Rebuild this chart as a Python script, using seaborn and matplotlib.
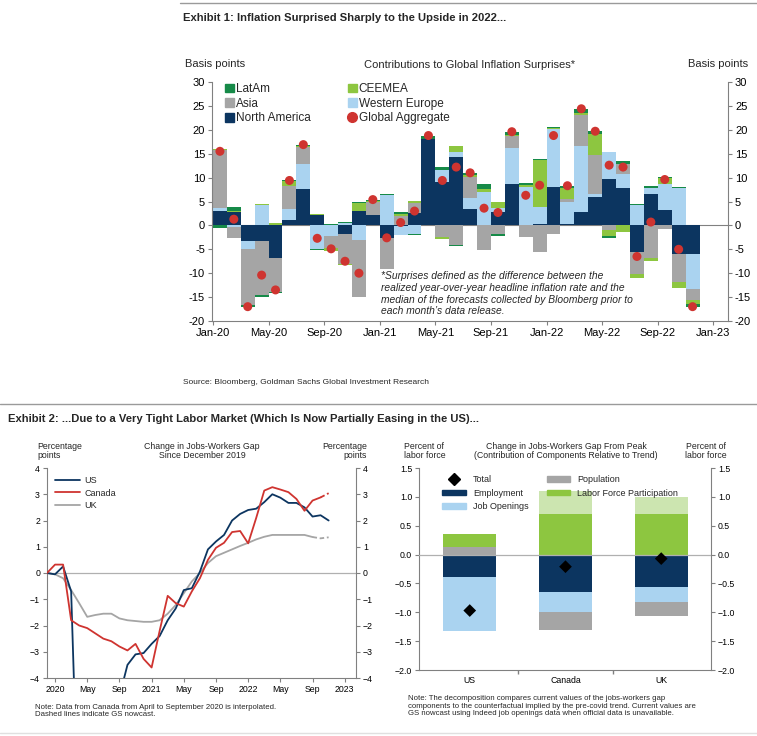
import numpy as np
import pandas as pd
import seaborn as sns
import matplotlib.pyplot as plt
from matplotlib.patches import Patch
from matplotlib.lines import Line2D

# Exhibit 1 data: contributions to inflation surprises (bp), Jan-20 .. Nov-22
months = pd.date_range("2020-01-01", "2022-11-01", freq="MS")
north_america = [3.0, 2.9, -3.3, -3.3, -6.8, 1.1, 7.7, 2.1, 0.0, -1.9, 3.1, 2.1,
                 -2.7, -0.2, 2.6, 18.1, 9.1, 14.3, 3.5, 0.0, 2.9, 8.7, 0.0, 0.2,
                 8.0, 0.2, 2.8, 5.9, 9.8, 7.9, -5.6, 6.5, 3.3, -5.9, -5.9]
western_europe = [0.7, -0.4, -1.6, 4.2, 0.0, 2.4, 5.1, -4.9, -2.2, 0.5, -3.1, 0.0,
                  6.4, -1.9, -1.9, 0.0, 2.4, 1.0, 2.3, 7.0, 0.8, 7.5, 8.1, 3.6,
                  12.2, 4.8, 13.9, 0.7, 5.5, 2.8, 4.3, 1.3, 5.4, 7.8, -7.4]
asia = [12.0, -2.2, -11.7, -11.2, -7.2, 4.7, 3.6, 0.0, -2.6, -6.1, -11.9, 2.7,
        -6.5, 2.0, 2.1, 0.0, -2.4, -4.1, 4.4, -5.2, -1.9, 2.6, -2.5, -5.5,
        -1.7, 0.6, 6.5, 8.1, -1.0, 2.1, -4.5, -6.8, -0.7, -6.0, -2.4]
ceemea = [0.3, 0.2, 0.0, 0.3, 0.5, 1.1, 0.2, 0.3, -0.5, -0.2, 1.6, 0.3,
          0.0, 0.4, 0.4, 0.0, -0.4, 1.3, 0.4, 0.7, 1.2, 0.1, 0.4, 9.8,
          0.1, 2.2, 0.3, 4.5, -1.2, -1.3, -0.9, -0.7, 1.2, -1.2, -0.7]
latam = [-0.5, 0.8, -0.4, -0.4, -0.2, 0.1, 0.3, -0.2, 0.3, 0.2, 0.3, 0.3,
         0.2, 0.3, -0.2, 0.7, 0.7, -0.3, 0.4, 1.0, -0.3, 0.7, 0.3, 0.3,
         0.3, 0.5, 0.9, 0.5, -0.4, 0.7, 0.2, 0.4, 0.3, 0.3, -0.6]
global_aggregate = [15.5, 1.3, -17.0, -10.4, -13.5, 9.4, 16.9, -2.7, -4.9, -7.5, -10.0, 5.4,
                    -2.6, 0.6, 3.0, 18.8, 9.4, 12.2, 11.0, 3.6, 2.7, 19.6, 6.3, 8.4,
                    18.8, 8.3, 24.4, 19.7, 12.6, 12.2, -6.5, 0.7, 9.6, -5.0, -17.0]
ex1_ticks = ["Jan-20", "May-20", "Sep-20", "Jan-21", "May-21", "Sep-21",
             "Jan-22", "May-22", "Sep-22", "Jan-23"]

# Exhibit 2 left: change in jobs-workers gap since Dec 2019 (pp), Dec-19 .. Nov-22
gap_us = [0.0, -0.05, 0.25, -0.7, -10.5, -8.5, -7.0, -6.0, -5.3, -4.7, -3.5, -3.1,
          -3.05, -2.7, -2.4, -1.8, -1.35, -0.65, -0.58, 0.05, 0.9, 1.2, 1.45, 2.0,
          2.25, 2.4, 2.45, 2.7, 3.0, 2.87, 2.67, 2.67, 2.5, 2.15, 2.2, 2.0]
gap_canada = [0.0, 0.32, 0.32, -1.8, -2.0, -2.1, -2.3, -2.5, -2.6, -2.8, -2.95, -2.7,
              -3.27, -3.6, -2.2, -0.87, -1.15, -1.28, -0.7, -0.2, 0.5, 0.96, 1.15, 1.56,
              1.6, 1.13, 2.1, 3.14, 3.27, 3.18, 3.08, 2.82, 2.37, 2.76, 2.88, 3.04]
gap_uk = [0.0, -0.05, -0.2, -0.65, -1.15, -1.67, -1.6, -1.55, -1.55, -1.73, -1.8, -1.83,
          -1.86, -1.86, -1.8, -1.55, -1.22, -0.77, -0.32, 0.0, 0.38, 0.64, 0.77, 0.9,
          1.03, 1.15, 1.28, 1.38, 1.45, 1.45, 1.45, 1.45, 1.45, 1.37, 1.32, 1.36]
ex2_ticks = ["2020", "May", "Sep", "2021", "May", "Sep", "2022", "May", "Sep", "2023"]

# Exhibit 2 right: change in gap from peak, components
countries = ["US", "Canada", "UK"]
employment = [-0.38, -0.65, -0.57]
job_openings = [-0.94, -0.35, -0.26]
population = [0.13, -0.31, -0.24]
participation = [0.22, 0.71, 0.71]
participation_light = [0.0, 0.39, 0.29]
total = [-0.97, -0.21, -0.07]

NAVY = "#0c3560"
LBLUE = "#aad3f0"
GRAY = "#a5a5a5"
LGREEN = "#8dc640"
PGREEN = "#cce5b0"
DGREEN = "#168a48"
RED = "#cf3430"
AXC = "#808080"

sns.set_theme(style="ticks")
plt.rcParams["font.family"] = ["Liberation Sans", "DejaVu Sans"]
NARROW = ["Liberation Sans Narrow", "Liberation Sans", "DejaVu Sans"]

fig = plt.figure(figsize=(7.57, 7.36), dpi=100)
W, H = 757, 736


def fx(px):
    return px / W


def fy(py):
    return 1 - py / H


def style_axes(ax, size):
    for s in ["left", "right", "bottom"]:
        ax.spines[s].set_color(AXC)
        ax.spines[s].set_linewidth(0.8)
    ax.spines["top"].set_visible(False)
    ax.tick_params(axis="both", direction="out", length=3, width=0.8, color=AXC,
                   labelsize=size, labelcolor="black", pad=2)
    ax.tick_params(axis="y", right=True, labelright=True)
    ax.set_xlabel("")
    ax.set_ylabel("")


# ---------------- Exhibit 1 ----------------
ax1 = fig.add_axes([fx(212), fy(321), fx(516), 239 / H])
x = np.arange(len(months))
pos = np.zeros(len(x))
neg = np.zeros(len(x))
for vals, col in [(north_america, NAVY), (western_europe, LBLUE), (asia, GRAY),
                  (ceemea, LGREEN), (latam, DGREEN)]:
    v = np.array(vals)
    ax1.bar(x, v, width=1.0, bottom=np.where(v >= 0, pos, neg), align="edge",
            color=col, linewidth=0, zorder=2)
    pos += np.clip(v, 0, None)
    neg += np.clip(v, None, 0)
ax1.axhline(0, color=AXC, lw=0.8, zorder=1)
sns.scatterplot(x=x + 0.5, y=global_aggregate, ax=ax1, color=RED, s=42,
                edgecolor="none", zorder=5, legend=False)
ax1.set_xlim(-0.07, 37.05)
ax1.set_ylim(-20, 30)
ax1.set_yticks(range(-20, 31, 5))
ax1.set_yticklabels([str(v) for v in range(-20, 31, 5)])
ax1.set_xticks(range(0, 37, 4))
ax1.set_xticklabels(ex1_ticks)
style_axes(ax1, 8)

h1 = [Patch(color=DGREEN, label="LatAm"), Patch(color=GRAY, label="Asia"),
      Patch(color=NAVY, label="North America"), Patch(color=LGREEN, label="CEEMEA"),
      Patch(color=LBLUE, label="Western Europe"),
      Line2D([], [], marker="o", ls="", color=RED, markersize=7, label="Global Aggregate")]
ax1.legend(handles=h1, ncol=2, loc="upper left", bbox_to_anchor=(0.025, 0.995),
           frameon=False, fontsize=8.5, handlelength=0.75, handleheight=0.75,
           handletextpad=0.15, columnspacing=3.2, labelspacing=0.22,
           borderpad=0, borderaxespad=0)

fig.add_artist(Line2D([fx(180), 1], [fy(3), fy(3)], color="#9a9a9a", lw=1))
fig.text(fx(183), fy(18), "Exhibit 1: Inflation Surprised Sharply to the Upside in 2022...",
         fontsize=8.1, fontweight="bold", family=NARROW, va="center", ha="left")
fig.text(fx(185), fy(64), "Basis points", fontsize=8, va="center", ha="left")
fig.text(fx(748), fy(64), "Basis points", fontsize=8, va="center", ha="right")
fig.text(fx(470), fy(65), "Contributions to Global Inflation Surprises*", fontsize=8,
         va="center", ha="center")
fig.text(fx(381), fy(271),
         "*Surprises defined as the difference between the\n"
         "realized year-over-year headline inflation rate and the\n"
         "median of the forecasts collected by Bloomberg prior to\n"
         "each month\u2019s data release.",
         fontsize=7.4, style="italic", va="top", ha="left", linespacing=1.22)
fig.text(fx(183), fy(383), "Source: Bloomberg, Goldman Sachs Global Investment Research",
         fontsize=6, family=NARROW, va="center", ha="left")

# ---------------- Exhibit 2 ----------------
fig.add_artist(Line2D([0, 1], [fy(404), fy(404)], color="#9a9a9a", lw=1))
fig.text(fx(8), fy(419),
         "Exhibit 2: ...Due to a Very Tight Labor Market (Which Is Now Partially Easing in the US)...",
         fontsize=8.1, fontweight="bold", family=NARROW, va="center", ha="left")
fig.add_artist(Line2D([0, 1], [fy(733), fy(733)], color="#e0e0e0", lw=1))

# left panel
ax2 = fig.add_axes([fx(47), fy(678), fx(309), 210 / H])
m = np.arange(len(gap_us))
dash = (0, (2.5, 1.5))
ax2.axhline(0, color="#b0b0b0", lw=0.9, zorder=1)
sns.lineplot(x=m[:34], y=gap_uk[:34], ax=ax2, color=GRAY, lw=1.3, zorder=2)
sns.lineplot(x=m[33:], y=gap_uk[33:], ax=ax2, color=GRAY, lw=1.3, ls=dash, zorder=2)
sns.lineplot(x=m, y=gap_us, ax=ax2, color=NAVY, lw=1.3, zorder=3)
sns.lineplot(x=m[:35], y=gap_canada[:35], ax=ax2, color=RED, lw=1.3, zorder=4)
sns.lineplot(x=m[34:], y=gap_canada[34:], ax=ax2, color=RED, lw=1.3, ls=dash, zorder=4)
ax2.set_xlim(0, 38.4)
ax2.set_ylim(-4, 4)
ax2.set_yticks(range(-4, 5))
ax2.set_xticks(range(1, 38, 4))
ax2.set_xticklabels(ex2_ticks)
style_axes(ax2, 6.3)
h2 = [Line2D([], [], color=NAVY, lw=1.3, label="US"),
      Line2D([], [], color=RED, lw=1.3, label="Canada"),
      Line2D([], [], color=GRAY, lw=1.3, label="UK")]
ax2.legend(handles=h2, loc="upper left", bbox_to_anchor=(0.027, 0.96), frameon=False,
           fontsize=6.5, handlelength=2.7, handletextpad=0.5, labelspacing=0.35,
           borderpad=0, borderaxespad=0)
fig.text(fx(37), fy(451), "Percentage\npoints", fontsize=6.3, va="center", ha="left",
         linespacing=0.95)
fig.text(fx(367), fy(451), "Percentage\npoints", fontsize=6.3, va="center", ha="right",
         multialignment="right", linespacing=0.95)
fig.text(fx(202), fy(451), "Change in Jobs-Workers Gap\nSince December 2019", fontsize=6.3,
         va="center", ha="center", linespacing=0.95)
fig.text(fx(35), fy(711), "Note: Data from Canada from April to September 2020 is interpolated.\n"
         "Dashed lines indicate GS nowcast.", fontsize=5.6, va="center", ha="left",
         linespacing=1.05)

# right panel
ax3 = fig.add_axes([fx(419), fy(670), fx(292), 202 / H])
xi = np.arange(len(countries))
bw = 0.55
pos = np.zeros(3)
neg = np.zeros(3)
for vals, col in [(employment, NAVY), (job_openings, LBLUE), (population, GRAY),
                  (participation, LGREEN), (participation_light, PGREEN)]:
    v = np.array(vals)
    ax3.bar(xi, v, width=bw, bottom=np.where(v >= 0, pos, neg), color=col,
            linewidth=0, zorder=2)
    pos += np.clip(v, 0, None)
    neg += np.clip(v, None, 0)
ax3.axhline(0, color="#b0b0b0", lw=0.9, zorder=3)
sns.scatterplot(x=xi, y=total, ax=ax3, marker="D", color="black", s=42,
                edgecolor="none", zorder=5, legend=False)
ax3.set_xlim(-0.53, 2.52)
ax3.set_ylim(-2.0, 1.5)
yt = np.arange(-2.0, 1.51, 0.5)
ax3.set_yticks(yt)
ax3.set_yticklabels([f"{v:.1f}".replace("-", "\u2212") for v in yt])
ax3.set_xticks(xi)
ax3.set_xticklabels(countries)
style_axes(ax3, 6.3)
ax3.tick_params(axis="x", length=0, pad=4)
ax3.set_xticks([0.5, 1.5], minor=True)
ax3.tick_params(axis="x", which="minor", length=3, color=AXC, direction="out")
h3 = [Line2D([], [], marker="D", ls="", color="black", markersize=6, label="Total"),
      Patch(color=NAVY, label="Employment"), Patch(color=LBLUE, label="Job Openings"),
      Patch(color=GRAY, label="Population"), Patch(color=LGREEN, label="Labor Force Participation")]
ax3.legend(handles=h3, ncol=2, loc="upper left", bbox_to_anchor=(0.08, 0.965), frameon=False,
           fontsize=6.5, handlelength=2.6, handleheight=0.6, handletextpad=0.8,
           labelspacing=0.5, columnspacing=2.0, borderpad=0, borderaxespad=0)
fig.text(fx(404), fy(451), "Percent of\nlabor force", fontsize=6.3, va="center", ha="left",
         linespacing=0.95)
fig.text(fx(727), fy(451), "Percent of\nlabor force", fontsize=6.3, va="center", ha="right",
         multialignment="center", linespacing=0.95)
fig.text(fx(566), fy(451), "Change in Jobs-Workers Gap From Peak\n"
         "(Contribution of Components Relative to Trend)", fontsize=6.3,
         va="center", ha="center", linespacing=0.95)
fig.text(fx(408), fy(706), "Note: The decomposition compares current values of the jobs-workers gap\n"
         "components to the counterfactual implied by the pre-covid trend. Current values are\n"
         "GS nowcast using Indeed job openings data when official data is unavailable.",
         fontsize=5.6, va="center", ha="left", linespacing=1.05)

fig.savefig("out.png", dpi=100, facecolor="white")
